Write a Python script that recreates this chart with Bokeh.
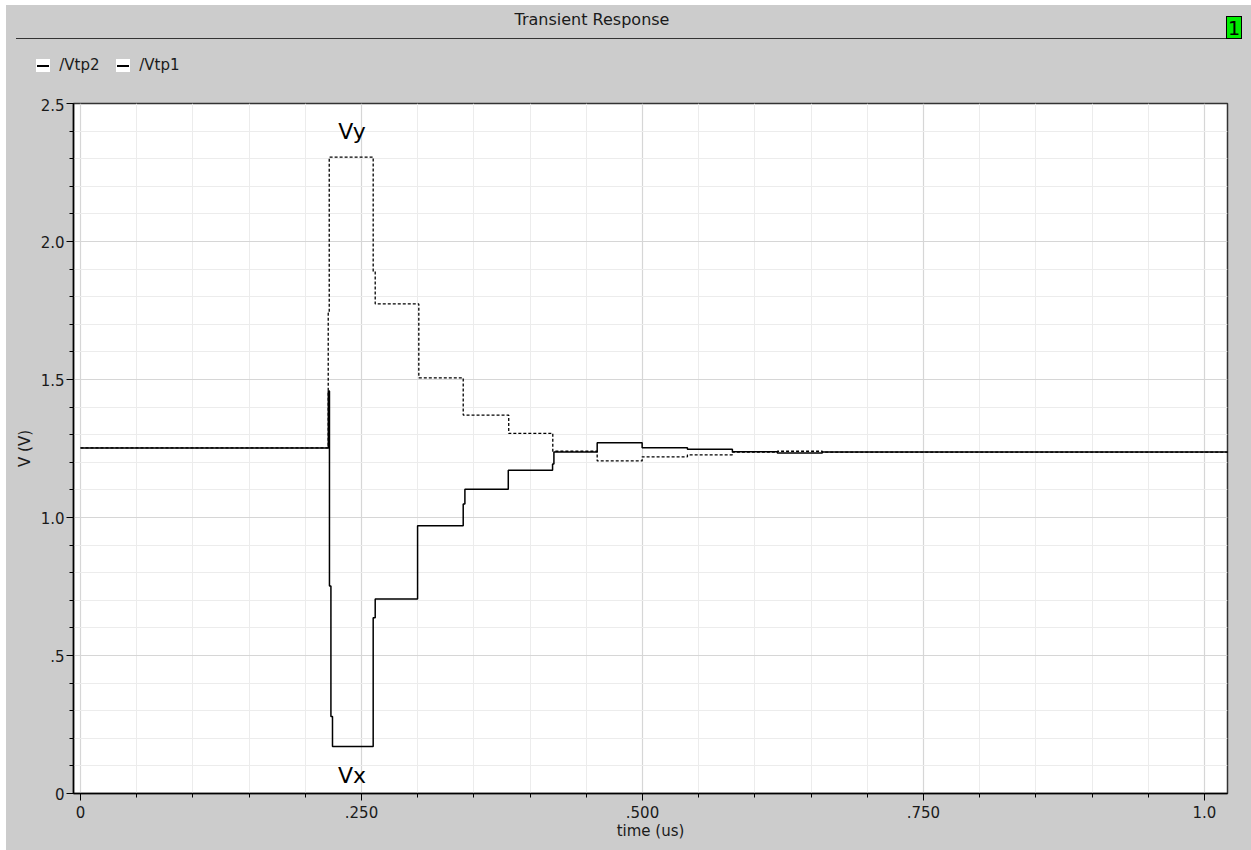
from bokeh.plotting import figure
from bokeh.models import Range1d, FixedTicker, Label, Div
from bokeh.layouts import column
from bokeh.embed import file_html
from bokeh.resources import INLINE

# ---------------- data ----------------
# Vx : solid trace (step points: value holds from this time on)
vx_time = [0.0, 0.2205, 0.2215, 0.2228, 0.2242, 0.2604, 0.2622, 0.2999,
           0.3405, 0.3420, 0.3806, 0.4200, 0.4212, 0.4597, 0.4997, 0.5400,
           0.5800, 0.6200, 0.6600, 1.0250]
vx_volt = [1.252, 1.458, 0.752, 0.279, 0.170, 0.637, 0.705, 0.970,
           1.049, 1.102, 1.171, 1.194, 1.237, 1.271, 1.253, 1.247,
           1.238, 1.234, 1.237, 1.237]

# Vy : dotted trace
vy_time = [0.0, 0.2204, 0.2213, 0.2604, 0.2622, 0.3010, 0.3405, 0.3810,
           0.4202, 0.4597, 0.4997, 0.5400, 0.5800, 0.6200, 0.6600, 1.0250]
vy_volt = [1.252, 1.741, 2.306, 1.892, 1.774, 1.506, 1.371, 1.305,
           1.240, 1.205, 1.220, 1.227, 1.237, 1.240, 1.237, 1.237]

series_names = ["/Vtp2", "/Vtp1"]

x_tick_values = [0.0, 0.25, 0.5, 0.75, 1.0]
x_tick_labels = ["0", ".250", ".500", ".750", "1.0"]
y_tick_values = [0.0, 0.5, 1.0, 1.5, 2.0, 2.5]
y_tick_labels = ["0", ".5", "1.0", "1.5", "2.0", "2.5"]

annotation_texts = ["Vy", "Vx"]
annotation_x = [0.2415, 0.2415]
annotation_y = [2.398, 0.064]

title_text = "Transient Response"
badge_text = "1"
x_label = "time (us)"
y_label = "V (V)"

# ---------------- layout constants ----------------
FONT = "DejaVu Sans"
GRAY = "#cccccc"
W = 1245
HEAD_H = 93                 # header strip (title, rule, legend)
FIG_H = 845 - HEAD_H
FL, FR, FT, FB = 67, 24, 5, 57

# ---------------- header (title, separator, badge, legend) ----------------
def legend_item(x_box, x_text, label):
    return (
        f'<div style="position:absolute;left:{x_box}px;top:54px;width:14px;height:13px;'
        f'background:#ffffff;"></div>'
        f'<div style="position:absolute;left:{x_box + 1}px;top:60px;width:12px;height:1.5px;'
        f'background:#000000;"></div>'
        f'<div style="position:absolute;left:{x_text}px;top:53.3px;font-family:\'{FONT}\';'
        f'font-size:15px;line-height:15px;color:#1a1a1a;white-space:nowrap;">{label}</div>'
    )

header_html = (
    f'<div style="position:relative;width:{W}px;height:{HEAD_H}px;background:{GRAY};'
    f'overflow:hidden;margin:0;padding:0;">'
    f'<div style="position:absolute;left:0px;top:7.2px;width:1172px;text-align:center;'
    f'font-family:\'{FONT}\';font-size:16px;line-height:16px;color:#1a1a1a;">{title_text}</div>'
    f'<div style="position:absolute;left:10px;top:32.5px;width:1210px;height:1.6px;'
    f'background:#333333;"></div>'
    f'<div style="position:absolute;left:1219.7px;top:10.7px;width:16px;height:23.3px;'
    f'box-sizing:border-box;border:1px solid #000000;background:#00ee00;"></div>'
    f'<div style="position:absolute;left:1219.7px;top:13.1px;width:16px;text-align:center;'
    f'font-family:\'DejaVu Sans Mono\';font-size:20px;line-height:20px;color:#000000;">{badge_text}</div>'
    + legend_item(30, 53.3, series_names[0])
    + legend_item(110, 133.3, series_names[1])
    + '</div>'
)
header = Div(text=header_html, width=W, height=HEAD_H, margin=0,
             styles={"background-color": GRAY, "padding": "0px", "margin": "0px"})

# ---------------- figure ----------------
x_minor = [round(i * 0.05, 4) for i in range(0, 21)]
x_minor = [v for v in x_minor if v not in x_tick_values]
y_minor = [round(i * 0.1, 4) for i in range(0, 26)]
y_minor = [v for v in y_minor if v not in y_tick_values]

p = figure(width=W, height=FIG_H, output_backend="svg", toolbar_location=None,
           x_range=Range1d(-0.00623, 1.0205), y_range=Range1d(0, 2.5),
           min_border_left=FL, min_border_right=FR,
           min_border_top=FT, min_border_bottom=FB,
           background_fill_color="white", border_fill_color=GRAY,
           outline_line_color="#333333", outline_line_width=1.5)
p.margin = 0

for g in (p.xgrid, p.ygrid):
    g.grid_line_color = "#d6d6d6"
    g.grid_line_width = 1.2
    g.minor_grid_line_color = "#ececec"
    g.minor_grid_line_width = 1

p.xaxis.ticker = FixedTicker(ticks=x_tick_values, minor_ticks=x_minor)
p.yaxis.ticker = FixedTicker(ticks=y_tick_values, minor_ticks=y_minor)
p.xaxis.major_label_overrides = {v: s for v, s in zip(x_tick_values, x_tick_labels)}
p.yaxis.major_label_overrides = {v: s for v, s in zip(y_tick_values, y_tick_labels)}
for ax in (p.xaxis, p.yaxis):
    ax.axis_line_color = "black"
    ax.axis_line_width = 1.5
    ax.major_tick_line_color = "black"
    ax.minor_tick_line_color = "black"
    ax.major_tick_in = 0
    ax.major_tick_out = 7
    ax.minor_tick_in = 0
    ax.minor_tick_out = 4
    ax.major_label_text_font = FONT
    ax.major_label_text_font_size = "15px"
    ax.major_label_text_color = "#1a1a1a"
    ax.axis_label_text_font = FONT
    ax.axis_label_text_font_size = "15px"
    ax.axis_label_text_font_style = "normal"
    ax.axis_label_text_color = "#1a1a1a"
p.xaxis.axis_label = x_label
p.yaxis.axis_label = y_label
p.xaxis.major_label_standoff = 5
p.xaxis.axis_label_standoff = 1
p.yaxis.major_label_standoff = 2
p.yaxis.axis_label_standoff = 4

# traces (dotted Vy first, solid Vx drawn on top)
r_vy = p.step(vy_time, vy_volt, mode="after", line_color="black", line_width=1.3,
              line_dash="3 2")
r_vx = p.step(vx_time, vx_volt, mode="after", line_color="black", line_width=1.5)

for t, xx, yy in zip(annotation_texts, annotation_x, annotation_y):
    p.add_layout(Label(x=xx, y=yy, text=t, text_align="center",
                       text_baseline="alphabetic", text_font=FONT,
                       text_font_size="22px", text_color="black"))

root = column(header, p, spacing=0)
root.margin = (5, 0, 0, 6)
root.styles = {"background-color": GRAY}

open("out.html", "w").write(file_html(root, INLINE))
